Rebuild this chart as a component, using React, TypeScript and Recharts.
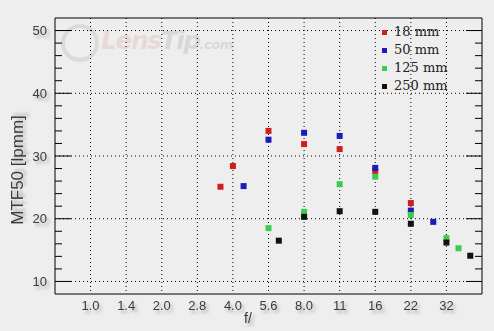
import React from "react";
import { ScatterChart, Scatter, XAxis, YAxis, CartesianGrid, ReferenceArea } from "recharts";

// f-stop tick labels (x axis positions are stop indices 0..10)
const fStops = ["1.0", "1.4", "2.0", "2.8", "4.0", "5.6", "8.0", "11", "16", "22", "32"];
const xTicks = [0, 1, 2, 3, 4, 5, 6, 7, 8, 9, 10];
const yTicks = [10, 12, 14, 16, 18, 20, 22, 24, 26, 28, 30, 32, 34, 36, 38, 40, 42, 44, 46, 48, 50];

// series: x = f-stop index position, y = MTF50 [lpmm]
const x18 = [3.65, 4, 5, 6, 7, 8, 9];
const y18 = [25.1, 28.4, 34.0, 31.9, 31.1, 27.6, 22.5];
const x50 = [4.3, 5, 6, 7, 8, 9, 9.63];
const y50 = [25.2, 32.6, 33.7, 33.2, 28.1, 21.3, 19.5];
const x125 = [5, 6, 7, 8, 9, 10, 10.34];
const y125 = [18.5, 21.1, 25.5, 26.7, 20.6, 16.9, 15.3];
const x250 = [5.29, 6, 7, 8, 9, 10, 10.67];
const y250 = [16.5, 20.3, 21.2, 21.1, 19.2, 16.2, 14.1];

const seriesNames = ["18 mm", "50 mm", "125 mm", "250 mm"];
const seriesColors = ["#d41c1c", "#1c1cb8", "#3ccc4c", "#111111"];

const toPts = (xs: number[], ys: number[]) => xs.map((x, i) => ({ x, y: ys[i] }));
const seriesData = [toPts(x18, y18), toPts(x50, y50), toPts(x125, y125), toPts(x250, y250)];

const W = 494;
const H = 331;
const M = { top: 18, right: 12, bottom: 0, left: 0 };
const XH = 37;
const YW = 55;
const PL = M.left + YW;
const PR = W - M.right;

const FONT = "'Liberation Sans', Arial, sans-serif";
const TXT = "#3a3a3a";

const YTick = (props: any) => {
  const { y, payload } = props;
  const v = payload.value;
  const major = v % 10 === 0;
  const len = major ? 16 : 7;
  return (
    <g>
      <line x1={PL} x2={PL + len} y1={y} y2={y} stroke="#000" strokeWidth={1} />
      <line x1={PR - len} x2={PR} y1={y} y2={y} stroke="#000" strokeWidth={1} />
      {major && (
        <text x={PL - 8} y={y} textAnchor="end" dominantBaseline="central" fontSize={13}
          fontFamily={FONT} fill={TXT} filter="url(#tshadow)">
          {v}
        </text>
      )}
    </g>
  );
};

const XTick = (props: any) => {
  const { x, y, payload } = props;
  return (
    <text x={x} y={y + 11} textAnchor="middle" dominantBaseline="central" fontSize={13}
      fontFamily={FONT} fill={TXT} filter="url(#tshadow)">
      {fStops[payload.value]}
    </text>
  );
};

const XLabel = (props: any) => {
  const vb = props.viewBox;
  return (
    <text x={vb.x + vb.width / 2 - 20.5} y={vb.y + 24} textAnchor="middle" dominantBaseline="central"
      fontSize={14} fontFamily={FONT} fill={TXT} filter="url(#tshadow)">
      f/
    </text>
  );
};

const YLabel = (props: any) => {
  const vb = props.viewBox;
  const cx = 17;
  const cy = vb.y + vb.height / 2 + 14;
  return (
    <text x={cx} y={cy} textAnchor="middle" dominantBaseline="central" fontSize={17}
      fontFamily={FONT} fill={TXT} transform={`rotate(-90 ${cx} ${cy})`} filter="url(#tshadow)">
      MTF50 [lpmm]
    </text>
  );
};

const LegendBox = () => (
  <div style={{ position: "absolute", left: 382, top: 23, fontFamily: "'DejaVu Serif', serif", fontSize: 13, color: "#222", lineHeight: "18px" }}>
    {seriesNames.map((n, i) => (
      <div key={n} style={{ display: "flex", alignItems: "center", height: 18 }}>
        <span style={{ display: "inline-block", width: 5, height: 5, background: seriesColors[i], marginRight: 7 }} />
        <span>{n}</span>
      </div>
    ))}
  </div>
);

const squareShape = (color: string) => (props: any) => (
  <rect x={props.cx - 3} y={props.cy - 3} width={6} height={6} fill={color} />
);

export default function App() {
  return (
    <div style={{ position: "absolute", left: 0, top: 0, width: W, height: H, background: "#eeeeee", overflow: "hidden" }}>
      <svg width={0} height={0} style={{ position: "absolute" }}>
        <defs>
          <filter id="tshadow" x="-50%" y="-50%" width="200%" height="200%">
            <feDropShadow dx={2.5} dy={3} stdDeviation={1.6} floodColor="#777" floodOpacity={0.55} />
          </filter>
        </defs>
      </svg>
      <div style={{ position: "absolute", left: 61, top: 24, width: 38, height: 38, borderRadius: "50%", border: "4px solid rgba(180,170,170,0.28)", boxSizing: "border-box" }} />
      <div style={{ position: "absolute", left: 101, top: 26, fontFamily: "'DejaVu Sans', sans-serif", fontWeight: "bold", fontStyle: "italic", fontSize: 25, lineHeight: "30px", letterSpacing: -1.5 }}>
        <span style={{ color: "rgba(220,150,150,0.25)" }}>Lens</span>
        <span style={{ color: "rgba(150,150,150,0.25)" }}>Tip</span>
        <span style={{ color: "rgba(150,150,150,0.25)", fontSize: 13, letterSpacing: -0.5 }}>.com</span>
      </div>
      <div style={{ position: "absolute", left: 0, top: 0 }}>
        <ScatterChart width={W} height={H} margin={M}>
          <CartesianGrid stroke="#000" strokeDasharray="1 3" verticalValues={xTicks} horizontalValues={[10, 20, 30, 40, 50]} />
          <XAxis type="number" dataKey="x" domain={[-1, 11]} ticks={xTicks} interval={0} axisLine={false}
            tickLine={false} tickSize={0} tickMargin={0} height={XH} tick={<XTick />} label={<XLabel />} />
          <YAxis type="number" dataKey="y" domain={[8, 52]} ticks={yTicks} interval={0} axisLine={false}
            tickLine={false} tickSize={0} tickMargin={0} width={YW} tick={<YTick />} label={<YLabel />} />
          <ReferenceArea x1={-1} x2={11} y1={8} y2={52} stroke="#000" strokeWidth={1} fill="none" fillOpacity={0} />
          {seriesData.map((d, i) => (
            <Scatter key={seriesNames[i]} name={seriesNames[i]} data={d} fill={seriesColors[i]}
              shape={squareShape(seriesColors[i])} isAnimationActive={false} />
          ))}
        </ScatterChart>
      </div>
      <LegendBox />
    </div>
  );
}
